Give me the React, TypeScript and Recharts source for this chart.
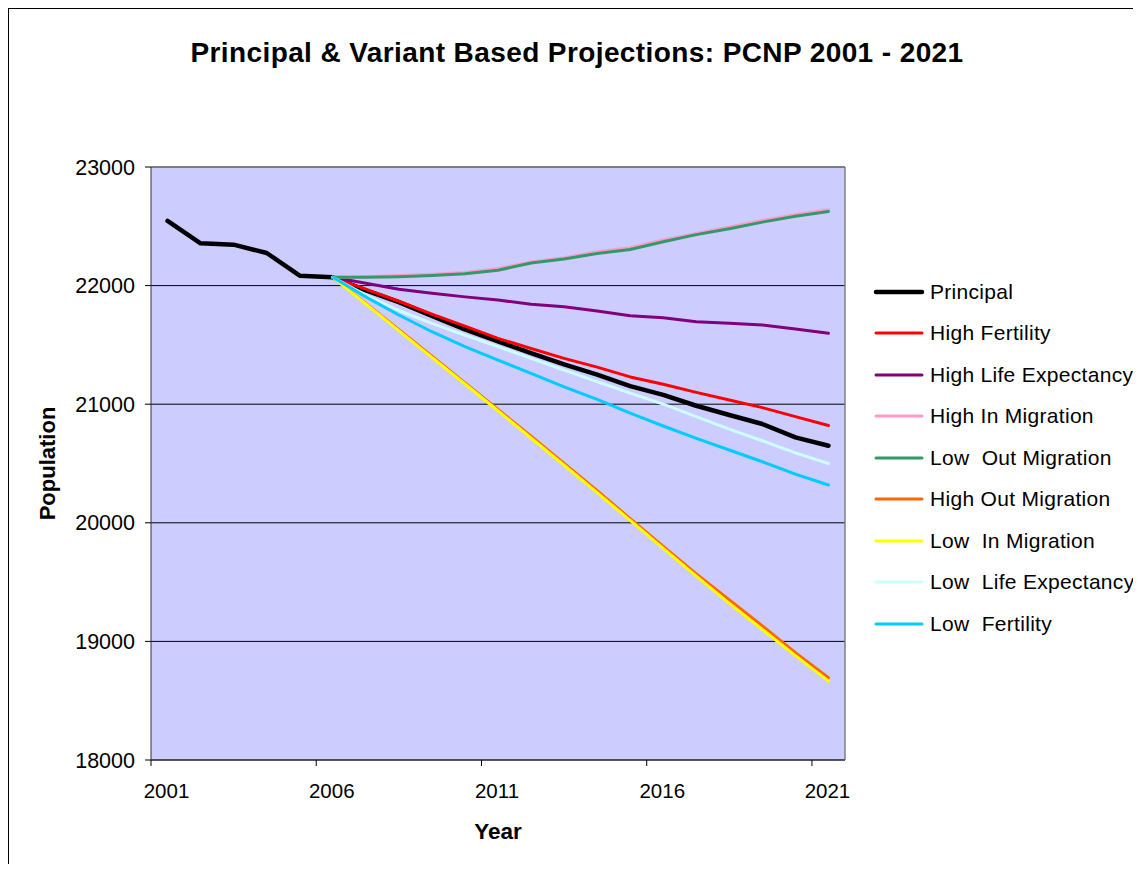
import React from 'react';
import {
  LineChart,
  Line,
  XAxis,
  YAxis,
  CartesianGrid,
  Legend,
  ReferenceLine
} from 'recharts';

const YEARS = [2001, 2002, 2003, 2004, 2005, 2006, 2007, 2008, 2009, 2010, 2011, 2012, 2013, 2014, 2015, 2016, 2017, 2018, 2019, 2020, 2021];
const X_TICKS = [2001, 2006, 2011, 2016, 2021];
const Y_TICKS = [18000, 19000, 20000, 21000, 22000, 23000];

const N = null;
const principal = [22545, 22357, 22345, 22275, 22084, 22070, 21960, 21860, 21745, 21630, 21530, 21430, 21335, 21250, 21153, 21078, 20987, 20909, 20833, 20720, 20650];
const highFertility = [N, N, N, N, N, 22070, 21970, 21868, 21760, 21659, 21555, 21470, 21386, 21313, 21230, 21168, 21100, 21035, 20971, 20895, 20820];
const highLifeExpectancy = [N, N, N, N, N, 22070, 22020, 21970, 21935, 21905, 21878, 21842, 21822, 21786, 21746, 21729, 21696, 21682, 21668, 21634, 21598];
const highInMigration = [N, N, N, N, N, 22070, 22075, 22085, 22095, 22110, 22145, 22200, 22235, 22285, 22320, 22385, 22440, 22495, 22550, 22600, 22640];
const lowOutMigration = [N, N, N, N, N, 22070, 22070, 22075, 22085, 22100, 22130, 22190, 22225, 22270, 22305, 22370, 22430, 22480, 22535, 22585, 22625];
const highOutMigration = [N, N, N, N, N, 22070, 21850, 21628, 21405, 21180, 20955, 20730, 20500, 20270, 20035, 19800, 19570, 19350, 19130, 18905, 18695];
const lowInMigration = [N, N, N, N, N, 22070, 21845, 21620, 21395, 21170, 20945, 20715, 20485, 20255, 20020, 19785, 19550, 19320, 19100, 18880, 18665];
const lowLifeExpectancy = [N, N, N, N, N, 22070, 21920, 21790, 21682, 21583, 21485, 21386, 21287, 21190, 21093, 21000, 20895, 20790, 20692, 20590, 20500];
const lowFertility = [N, N, N, N, N, 22070, 21905, 21752, 21611, 21485, 21372, 21260, 21147, 21040, 20924, 20816, 20712, 20614, 20515, 20411, 20319];

const SERIES = [
  { key: 'principal', name: 'Principal', color: '#000000', width: 4.5, values: principal },
  { key: 'highFertility', name: 'High Fertility', color: '#FF0000', width: 3, values: highFertility },
  { key: 'highLifeExpectancy', name: 'High Life Expectancy', color: '#800080', width: 3, values: highLifeExpectancy },
  { key: 'highInMigration', name: 'High In Migration', color: '#FF99CC', width: 3, values: highInMigration },
  { key: 'lowOutMigration', name: 'Low  Out Migration', color: '#339966', width: 3, values: lowOutMigration },
  { key: 'highOutMigration', name: 'High Out Migration', color: '#FF6600', width: 3, values: highOutMigration },
  { key: 'lowInMigration', name: 'Low  In Migration', color: '#FFFF00', width: 3, values: lowInMigration },
  { key: 'lowLifeExpectancy', name: 'Low  Life Expectancy', color: '#CCFFFF', width: 3, values: lowLifeExpectancy },
  { key: 'lowFertility', name: 'Low  Fertility', color: '#00CCFF', width: 3, values: lowFertility }
];

const data = YEARS.map((year, i) => {
  const row: Record<string, number | null> = { year };
  SERIES.forEach((s) => {
    row[s.key] = s.values[i];
  });
  return row;
});

const FONT = 'Arial, "Liberation Sans", sans-serif';
const CHART_W = 1124;
const CHART_H = 855;
const Y_W = 142;
const X_H = 104;
const MARGIN = { top: 158, right: 288, bottom: 0, left: 0 };
const HALF_BAND = (CHART_W - Y_W - MARGIN.right) / YEARS.length / 2;

// excel puts the tick marks between categories, labels in the middle
const YearTick = ({ x, y, payload }: any) => (
  <g>
    <line x1={x - HALF_BAND} x2={x - HALF_BAND} y1={y - 8} y2={y - 2} stroke="#000" />
    <text x={x - 1} y={y + 22} textAnchor="middle" dominantBaseline="central" fontSize={20.5} fontFamily={FONT} fill="#000">
      {payload.value}
    </text>
  </g>
);

const LegendBox = () => (
  <div style={{ fontFamily: FONT, fontSize: 21, letterSpacing: 0.3, color: '#000' }}>
    {SERIES.map((s) => (
      <div key={s.key} style={{ height: 41.5, display: 'flex', alignItems: 'center' }}>
        <svg width={52} height={10} style={{ display: 'block' }}>
          <line x1={3} x2={49} y1={5} y2={5} stroke={s.color} strokeWidth={s.width} strokeLinecap="round" />
        </svg>
        <span style={{ marginLeft: 5, whiteSpace: 'pre' }}>{s.name}</span>
      </div>
    ))}
  </div>
);

const App: React.FC = () => {
  return (
    <div
      style={{
        position: 'relative',
        width: CHART_W,
        height: CHART_H,
        borderTop: '1px solid #000',
        borderLeft: '1px solid #000',
        overflow: 'hidden',
        background: '#fff'
      }}
    >
      <div
        style={{
          position: 'absolute',
          left: 0,
          top: 29,
          width: 1136,
          textAlign: 'center',
          fontFamily: FONT,
          fontWeight: 'bold',
          fontSize: 28,
          letterSpacing: 0.4,
          lineHeight: '30px',
          zIndex: 1
        }}
      >
        Principal &amp; Variant Based Projections: PCNP 2001 - 2021
      </div>
      <LineChart width={CHART_W} height={CHART_H} data={data} margin={MARGIN}>
        <CartesianGrid vertical={false} stroke="#000" fill="#CCCCFF" />
        <XAxis
          dataKey="year"
          type="number"
          domain={[2000.5, 2021.5]}
          ticks={X_TICKS}
          height={X_H}
          tickLine={false}
          tickSize={6}
          tickMargin={2}
          axisLine={{ stroke: '#333' }}
          tick={<YearTick />}
          label={{
            content: ({ viewBox }: any) => (
              <text
                x={viewBox.x + viewBox.width / 2}
                y={viewBox.y + 71}
                textAnchor="middle"
                dominantBaseline="central"
                fontFamily={FONT}
                fontWeight="bold"
                fontSize={22.5}
              >
                Year
              </text>
            )
          }}
        />
        <YAxis
          type="number"
          domain={[18000, 23000]}
          ticks={Y_TICKS}
          width={Y_W}
          tickSize={6}
          tickMargin={10}
          interval={0}
          axisLine={{ stroke: '#333' }}
          tickLine={{ stroke: '#000' }}
          tick={{ fontSize: 21.5, fontFamily: FONT, fill: '#000' }}
          label={{
            content: ({ viewBox }: any) => {
              const cx = viewBox.x + 38;
              const cy = viewBox.y + viewBox.height / 2;
              return (
                <text
                  x={cx}
                  y={cy}
                  transform={`rotate(-90, ${cx}, ${cy})`}
                  textAnchor="middle"
                  dominantBaseline="central"
                  fontFamily={FONT}
                  fontWeight="bold"
                  fontSize={22}
                >
                  Population
                </text>
              );
            }
          }}
        />
        <ReferenceLine y={23000} stroke="#808080" strokeWidth={1.5} />
        <ReferenceLine x={2021.5} stroke="#808080" strokeWidth={1.5} />
        {SERIES.map((s) => (
          <Line
            key={s.key}
            type="linear"
            dataKey={s.key}
            name={s.name}
            stroke={s.color}
            strokeWidth={s.width}
            strokeLinecap="round"
            strokeLinejoin="round"
            dot={false}
            activeDot={false}
            isAnimationActive={false}
          />
        ))}
        <Legend
          layout="vertical"
          align="center"
          verticalAlign="middle"
          content={<LegendBox />}
          wrapperStyle={{ position: 'absolute', left: 864, top: 262, width: 270, height: 380 }}
        />
      </LineChart>
    </div>
  );
};

export default App;
